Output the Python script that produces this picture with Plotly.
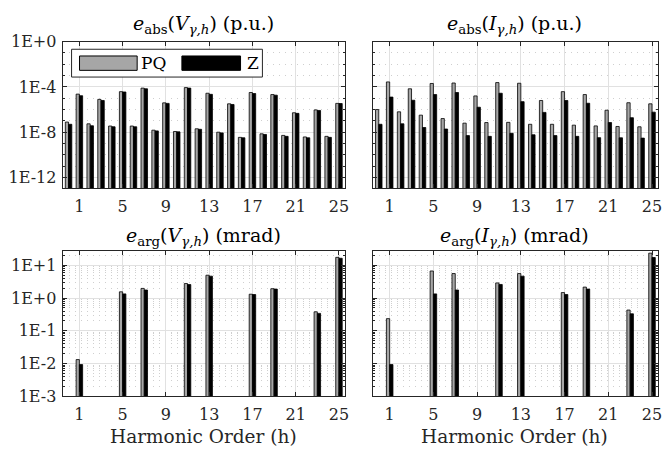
import plotly.graph_objects as go

# ---------------- data ----------------
h_abs = list(range(0, 26))
V_abs_PQ = [7.9e-8, 2.3e-5, 5.5e-8, 7.9e-6, 3.5e-8, 3.8e-5, 3.5e-8, 7.8e-5, 1.5e-8, 3.9e-6,
            1.15e-8, 8.7e-5, 2.0e-8, 2.75e-5, 1.0e-8, 3.2e-6, 3.5e-9, 3.2e-5, 7.2e-9, 2.1e-5,
            5.2e-9, 5.2e-7, 3.8e-9, 9.3e-7, 4.3e-9, 3.5e-6]
V_abs_Z = [5.0e-8, 1.66e-5, 3.7e-8, 6.3e-6, 3.0e-8, 3.55e-5, 3.0e-8, 6.8e-5, 1.3e-8, 3.5e-6,
           1.07e-8, 7.8e-5, 1.8e-8, 2.2e-5, 8.7e-9, 2.8e-6, 3.2e-9, 2.6e-5, 6.3e-9, 1.86e-5,
           4.3e-9, 4.6e-7, 3.2e-9, 8.3e-7, 3.5e-9, 3.4e-6]
I_abs_PQ = [1.0e-6, 2.75e-4, 6.3e-7, 6.8e-5, 3.2e-7, 2.0e-4, 1.6e-7, 2.2e-4, 6.3e-8, 1.6e-5,
            7.1e-8, 2.4e-4, 7.4e-8, 2.1e-4, 5.0e-8, 6.3e-6, 5.0e-8, 3.8e-5, 4.2e-8, 2.1e-5,
            3.6e-8, 8.7e-7, 3.2e-8, 4.0e-6, 3.0e-8, 3.2e-6]
I_abs_Z = [5.0e-8, 1.26e-5, 5.5e-8, 6.6e-6, 2.6e-8, 2.1e-5, 1.9e-8, 3.2e-5, 5.0e-9, 1.6e-6,
           4.3e-9, 2.75e-5, 7.9e-9, 5.0e-6, 5.9e-9, 5.6e-7, 5.0e-9, 6.3e-6, 4.3e-9, 3.6e-6,
           3.3e-9, 7.1e-8, 3.2e-9, 1.9e-7, 3.0e-9, 5.9e-7]

h_arg = [1, 5, 7, 11, 13, 17, 19, 23, 25]
V_arg_PQ = [0.0132, 1.55, 1.97, 2.77, 4.98, 1.31, 1.93, 0.38, 17.5]
V_arg_Z = [0.0093, 1.34, 1.76, 2.58, 4.66, 1.28, 1.88, 0.34, 16.4]
I_arg_PQ = [0.235, 6.7, 5.6, 2.9, 5.6, 1.47, 2.16, 0.43, 23.5]
I_arg_Z = [0.0093, 1.34, 1.76, 2.6, 4.66, 1.28, 1.88, 0.33, 17.3]

x_tickvals = [1, 5, 9, 13, 17, 21, 25]
abs_tickvals = [1e-12, 1e-8, 1e-4, 1e0]
abs_ticktext = ["1E-12", "1E-8", "1E-4", "1E+0"]
arg_tickvals = [1e-3, 1e-2, 1e-1, 1e0, 1e1]
arg_ticktext = ["1E-3", "1E-2", "1E-1", "1E+0", "1E+1"]

series_names = ["PQ", "Z"]
titles = [
    "<i>e</i><sub>abs</sub>(<i>V</i><sub><i>γ,h</i></sub>) (p.u.)",
    "<i>e</i><sub>abs</sub>(<i>I</i><sub><i>γ,h</i></sub>) (p.u.)",
    "<i>e</i><sub>arg</sub>(<i>V</i><sub><i>γ,h</i></sub>) (mrad)",
    "<i>e</i><sub>arg</sub>(<i>I</i><sub><i>γ,h</i></sub>) (mrad)",
]
xlabel = "Harmonic Order (h)"

# ---------------- style ----------------
W, H = 664, 459
FONT = "DejaVu Serif"
AX = "#262626"
PQ_COLOR = "#a6a6a6"
Z_COLOR = "#000000"
GRID = "#e1e1e1"
MINOR_GRID = "#cfcfcf"


def px(x):
    return x / W


def py(y):
    return 1 - y / H


dom_x = [[px(63), px(347)], [px(375), px(662)]]
dom_y_top = [py(187), py(34)]
dom_y_bot = [py(404), py(252)]

fig = go.Figure()

panels = [
    ("x", "y", h_abs, V_abs_PQ, V_abs_Z),
    ("x2", "y2", h_abs, I_abs_PQ, I_abs_Z),
    ("x3", "y3", h_arg, V_arg_PQ, V_arg_Z),
    ("x4", "y4", h_arg, I_arg_PQ, I_arg_Z),
]
for i, (xa, ya, hx, pq, z) in enumerate(panels):
    fig.add_trace(go.Bar(x=hx, y=pq, name=series_names[0], width=0.3, offset=-0.3,
                         marker=dict(color=PQ_COLOR, line=dict(color="#000000", width=0.8)),
                         xaxis=xa, yaxis=ya, showlegend=False))
    fig.add_trace(go.Bar(x=hx, y=z, name=series_names[1], width=0.3, offset=0.0,
                         marker=dict(color=Z_COLOR, line=dict(color="#000000", width=0.8)),
                         xaxis=xa, yaxis=ya, showlegend=False))

common_x = dict(range=[-0.55, 25.55], tickmode="array", tickvals=x_tickvals,
                showgrid=True, gridcolor=GRID, gridwidth=1, zeroline=False,
                showline=True, linecolor=AX, linewidth=1, mirror="allticks",
                ticks="inside", ticklen=4, tickcolor=AX, ticklabelstandoff=4,
                tickfont=dict(family=FONT, size=16, color=AX))
common_y = dict(type="log", tickmode="array", showgrid=True, gridcolor=GRID, gridwidth=1,
                zeroline=False, showline=True, linecolor=AX, linewidth=1, mirror="allticks",
                ticks="inside", ticklen=4, tickcolor=AX, ticklabelstandoff=2,
                tickfont=dict(family=FONT, size=16, color=AX))

layout = dict(width=W, height=H, margin=dict(l=0, r=0, t=0, b=0),
              paper_bgcolor="white", plot_bgcolor="white", barmode="overlay",
              font=dict(family=FONT, color=AX))
for i in range(4):
    k = "" if i == 0 else str(i + 1)
    xa = dict(common_x, domain=dom_x[i % 2], anchor="y" + k)
    ya = dict(common_y, domain=dom_y_top if i < 2 else dom_y_bot, anchor="x" + k)
    if i < 2:
        ya.update(range=[-12.95, 0], tickvals=abs_tickvals, ticktext=abs_ticktext,
                  minor=dict(tickmode="linear", tick0=0, dtick=1, ticks="inside", ticklen=2,
                             tickcolor=AX, showgrid=True, gridcolor=MINOR_GRID,
                             griddash="1px,5px"))
    else:
        ya.update(range=[-3, 1.45], tickvals=arg_tickvals, ticktext=arg_ticktext,
                  minor=dict(tickmode="linear", dtick="D1", ticks="inside", ticklen=2,
                             tickcolor=AX, showgrid=True, gridcolor=MINOR_GRID,
                             griddash="1px,5px"))
    if i % 2 == 1:
        ya.update(showticklabels=False)
    layout["xaxis" + k] = xa
    layout["yaxis" + k] = ya
fig.update_layout(**layout)

# titles
title_pos = [(205, 16), (518, 16), (205, 237), (518, 237)]
for t, (cx, cy) in zip(titles, title_pos):
    fig.add_annotation(text=t, x=px(cx), y=py(cy), xref="paper", yref="paper",
                       showarrow=False, xanchor="center", yanchor="middle",
                       font=dict(family=FONT, size=19, color="#000000"))
for cx in (205, 518):
    fig.add_annotation(text=xlabel, x=px(cx), y=py(446), xref="paper", yref="paper",
                       showarrow=False, xanchor="center", yanchor="middle",
                       font=dict(family=FONT, size=18.5, color=AX))

# legend (drawn box)
fig.add_shape(type="rect", xref="paper", yref="paper", x0=px(72), x1=px(264), y0=py(71), y1=py(42),
              fillcolor="white", line=dict(color=AX, width=1))
fig.add_shape(type="rect", xref="paper", yref="paper", x0=px(80), x1=px(138), y0=py(64), y1=py(49),
              fillcolor=PQ_COLOR, line=dict(color="#000000", width=1))
fig.add_shape(type="rect", xref="paper", yref="paper", x0=px(183), x1=px(242), y0=py(64), y1=py(49),
              fillcolor=Z_COLOR, line=dict(color="#000000", width=1))
fig.add_annotation(text=series_names[0], x=px(140), y=py(56.5), xref="paper", yref="paper",
                   showarrow=False, xanchor="left", yanchor="middle",
                   font=dict(family=FONT, size=17, color="#000000"))
fig.add_annotation(text=series_names[1], x=px(246), y=py(56.5), xref="paper", yref="paper",
                   showarrow=False, xanchor="left", yanchor="middle",
                   font=dict(family=FONT, size=17, color="#000000"))

fig.write_html("out.html", config={"displayModeBar": False},
               post_script="document.body.style.margin='0px';document.body.style.overflow='hidden';")
